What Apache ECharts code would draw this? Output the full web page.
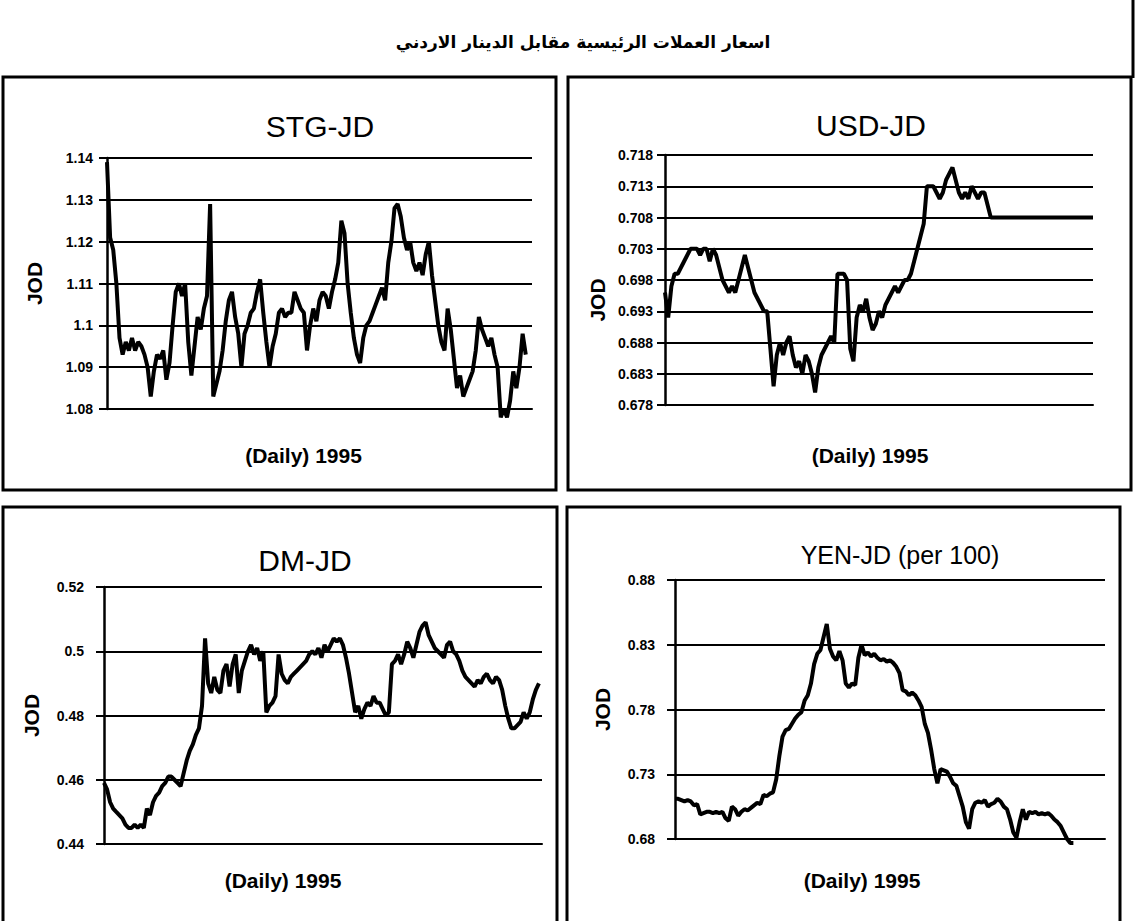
<!DOCTYPE html>
<html>
<head>
    <meta charset="utf-8">
    <title>JD exchange rates 1995</title>
    <script src="https://cdn.jsdelivr.net/npm/echarts@6/dist/echarts.min.js"></script>
    <style>html, body { margin: 0; padding: 0; background: #fff; }</style>
</head>
<body>
    <div id="main" style="width: 1137px;height:921px;"></div>
    <script type="text/javascript">
        // daily rates for 1995
        var stg = [1.139, 1.121, 1.118, 1.110, 1.097, 1.093, 1.096, 1.094, 1.097, 1.094, 1.096, 1.095, 1.093, 1.090, 1.083,
            1.089, 1.093, 1.092, 1.094, 1.087, 1.091, 1.100, 1.108, 1.110, 1.107, 1.110, 1.096, 1.088, 1.095, 1.102,
            1.099, 1.104, 1.107, 1.129, 1.083, 1.086, 1.089, 1.094, 1.101, 1.106, 1.108, 1.102, 1.098, 1.090, 1.098,
            1.100, 1.103, 1.104, 1.108, 1.111, 1.103, 1.096, 1.090, 1.095, 1.098, 1.103, 1.104, 1.102, 1.103, 1.103,
            1.108, 1.106, 1.104, 1.103, 1.094, 1.100, 1.104, 1.101, 1.106, 1.108, 1.107, 1.104, 1.108, 1.111, 1.115,
            1.125, 1.122, 1.110, 1.103, 1.097, 1.093, 1.091, 1.097, 1.100, 1.101, 1.103, 1.105, 1.107, 1.109, 1.106,
            1.115, 1.120, 1.128, 1.129, 1.126, 1.121, 1.118, 1.120, 1.115, 1.113, 1.115, 1.112, 1.117, 1.120, 1.112,
            1.106, 1.100, 1.096, 1.094, 1.104, 1.099, 1.092, 1.085, 1.088, 1.083, 1.085, 1.087, 1.089, 1.094, 1.102,
            1.099, 1.097, 1.095, 1.097, 1.093, 1.090, 1.078, 1.080, 1.078, 1.082, 1.089, 1.085, 1.090, 1.098, 1.093];

        var usd = [0.696, 0.692, 0.697, 0.699, 0.699, 0.700, 0.701, 0.702, 0.703, 0.703, 0.703, 0.702, 0.703, 0.703, 0.701,
            0.703, 0.702, 0.700, 0.698, 0.697, 0.696, 0.697, 0.696, 0.698, 0.700, 0.702, 0.700, 0.698, 0.696, 0.695,
            0.694, 0.693, 0.693, 0.687, 0.681, 0.686, 0.688, 0.686, 0.688, 0.689, 0.686, 0.684, 0.685, 0.683, 0.686,
            0.685, 0.683, 0.680, 0.684, 0.686, 0.687, 0.688, 0.689, 0.688, 0.699, 0.699, 0.699, 0.698, 0.687, 0.685,
            0.692, 0.694, 0.693, 0.695, 0.692, 0.690, 0.691, 0.693, 0.692, 0.694, 0.695, 0.696, 0.697, 0.696, 0.697,
            0.698, 0.698, 0.699, 0.701, 0.703, 0.705, 0.707, 0.713, 0.713, 0.713, 0.712, 0.711, 0.712, 0.714, 0.715,
            0.716, 0.714, 0.712, 0.711, 0.712, 0.711, 0.713, 0.712, 0.711, 0.712, 0.712, 0.710, 0.708,
            0.708, 0.708, 0.708, 0.708, 0.708, 0.708, 0.708, 0.708, 0.708, 0.708, 0.708, 0.708, 0.708, 0.708, 0.708, 0.708,
            0.708, 0.708, 0.708, 0.708, 0.708, 0.708, 0.708, 0.708, 0.708, 0.708, 0.708, 0.708, 0.708, 0.708, 0.708, 0.708];

        var dm = [0.459, 0.457, 0.453, 0.451, 0.450, 0.449, 0.448, 0.446, 0.445, 0.445, 0.446, 0.445, 0.446, 0.445, 0.451,
            0.449, 0.453, 0.455, 0.456, 0.458, 0.459, 0.461, 0.461, 0.460, 0.459, 0.458, 0.462, 0.466, 0.469, 0.471,
            0.474, 0.476, 0.483, 0.504, 0.490, 0.487, 0.492, 0.488, 0.487, 0.494, 0.496, 0.489, 0.496, 0.499, 0.487,
            0.494, 0.497, 0.500, 0.502, 0.499, 0.501, 0.497, 0.500, 0.481, 0.483, 0.484, 0.486, 0.499, 0.493, 0.491,
            0.490, 0.492, 0.493, 0.494, 0.495, 0.496, 0.497, 0.499, 0.500, 0.499, 0.501, 0.498, 0.502, 0.500, 0.502,
            0.504, 0.503, 0.504, 0.502, 0.498, 0.493, 0.487, 0.481, 0.483, 0.479, 0.482, 0.484, 0.483, 0.486, 0.484,
            0.484, 0.482, 0.480, 0.481, 0.496, 0.497, 0.499, 0.496, 0.499, 0.503, 0.501, 0.498, 0.502, 0.506, 0.508,
            0.509, 0.505, 0.503, 0.501, 0.500, 0.499, 0.498, 0.502, 0.503, 0.500, 0.499, 0.497, 0.494, 0.492, 0.491,
            0.490, 0.489, 0.491, 0.490, 0.492, 0.493, 0.491, 0.490, 0.492, 0.491, 0.488, 0.483, 0.479, 0.476, 0.476,
            0.477, 0.478, 0.481, 0.479, 0.481, 0.485, 0.488, 0.490];

        var yen = [0.711, 0.711, 0.710, 0.709, 0.710, 0.709, 0.706, 0.707, 0.699, 0.700, 0.701, 0.701, 0.700, 0.701, 0.700,
            0.701, 0.696, 0.694, 0.705, 0.703, 0.698, 0.701, 0.703, 0.702, 0.704, 0.706, 0.708, 0.707, 0.714, 0.713,
            0.715, 0.716, 0.726, 0.744, 0.759, 0.764, 0.765, 0.769, 0.773, 0.776, 0.778, 0.787, 0.791, 0.800, 0.815,
            0.823, 0.826, 0.836, 0.846, 0.827, 0.821, 0.818, 0.825, 0.818, 0.800, 0.797, 0.800, 0.799, 0.820, 0.830,
            0.822, 0.824, 0.821, 0.823, 0.820, 0.818, 0.819, 0.817, 0.818, 0.816, 0.813, 0.808, 0.795, 0.794, 0.791,
            0.793, 0.791, 0.787, 0.782, 0.769, 0.762, 0.749, 0.734, 0.723, 0.734, 0.733, 0.732, 0.728, 0.723, 0.721,
            0.713, 0.705, 0.693, 0.688, 0.703, 0.708, 0.709, 0.708, 0.710, 0.705, 0.707, 0.708, 0.711, 0.709, 0.705,
            0.703, 0.695, 0.685, 0.681, 0.693, 0.703, 0.695, 0.701, 0.700, 0.701, 0.699, 0.700, 0.699, 0.700, 0.698,
            0.695, 0.693, 0.690, 0.685, 0.680, 0.677, 0.677];

        // y tick values of each panel
        var stgTicks = [1.08, 1.09, 1.10, 1.11, 1.12, 1.13, 1.14];
        var usdTicks = [0.678, 0.683, 0.688, 0.693, 0.698, 0.703, 0.708, 0.713, 0.718];
        var dmTicks = [0.44, 0.46, 0.48, 0.50, 0.52];
        var yenTicks = [0.68, 0.73, 0.78, 0.83, 0.88];

        var mainTitle = 'اسعار العملات الرئيسية مقابل الدينار الاردني';
        var panelTitles = ['STG-JD', 'USD-JD', 'DM-JD', 'YEN-JD (per 100)'];
        var xName = '(Daily) 1995';
        var yName = 'JOD';

        // layout of the four boxes
        var panels = [
            { data: stg, ticks: stgTicks, pad: 2, grid: [107, 158, 425, 251], box: [3, 77, 553, 413],
              title: [320, 126], tsize: 30, xGap: 36, xShift: 32, yGap: 62, yShift: 0, lblGap: 14 },
            { data: usd, ticks: usdTicks, pad: 0, grid: [665, 155, 428, 250], box: [568, 77, 563, 413],
              title: [871, 125], tsize: 30, xGap: 40, xShift: 18, yGap: 57, yShift: 40, lblGap: 12 },
            { data: dm, ticks: dmTicks, pad: 1, grid: [104, 587, 438, 257], box: [3, 507, 554, 430],
              title: [305, 560], tsize: 30, xGap: 26, xShift: 80, yGap: 62, yShift: 0, lblGap: 20 },
            { data: yen, ticks: yenTicks, pad: 10, grid: [675, 580, 430, 259], box: [567, 507, 553, 430],
              title: [900, 555], tsize: 25, xGap: 31, xShift: 56, yGap: 62, yShift: 0, lblGap: 20 }
        ];

        var chart = echarts.init(document.getElementById('main'), null, { renderer: 'svg' });

        function fmt(v) {
            return String(+v.toFixed(3));
        }

        var grids = [], xAxes = [], yAxes = [], series = [];
        var graphics = [{
            type: 'text', x: 583, y: 42,
            style: { text: mainTitle, align: 'center', verticalAlign: 'middle', fill: '#000',
                font: 'bold 17px "DejaVu Sans"' }
        }, {
            type: 'line', shape: { x1: 1133, y1: 0, x2: 1133, y2: 78 },
            style: { stroke: '#000', lineWidth: 3 }
        }];

        panels.forEach(function (p, i) {
            var days = [];
            for (var d = 1; d <= p.data.length + p.pad; d++) days.push(d);

            grids.push({ left: p.grid[0], top: p.grid[1], width: p.grid[2], height: p.grid[3] });

            xAxes.push({
                gridIndex: i,
                type: 'category',
                boundaryGap: false,
                data: days,
                axisLine: { show: true, lineStyle: { color: '#000', width: 2 } },
                axisTick: { show: false },
                axisLabel: { show: false },
                splitLine: { show: false },
                name: xName,
                nameLocation: 'middle',
                nameGap: p.xGap,
                nameTextStyle: { color: '#000', fontSize: 21, fontWeight: 'bold', fontFamily: 'Liberation Sans',
                    padding: [0, p.xShift, 0, 0] }
            });

            yAxes.push({
                gridIndex: i,
                type: 'value',
                min: p.ticks[0],
                max: p.ticks[p.ticks.length - 1],
                axisLine: { show: true, lineStyle: { color: '#000', width: 2.5 } },
                axisTick: { show: true, length: 8, customValues: p.ticks, lineStyle: { color: '#000', width: 2 } },
                axisLabel: {
                    customValues: p.ticks, formatter: fmt, color: '#000', fontSize: 14,
                    fontWeight: 'bold', fontFamily: 'Liberation Sans', margin: p.lblGap
                },
                splitLine: { show: true, lineStyle: { color: '#000', width: 2 } },
                name: yName,
                nameLocation: 'middle',
                nameRotate: 90,
                nameGap: p.yGap,
                nameTextStyle: { color: '#000', fontSize: 21, fontWeight: 'bold', fontFamily: 'Liberation Sans',
                    padding: [0, p.yShift, 0, 0] }
            });

            series.push({
                type: 'line',
                xAxisIndex: i,
                yAxisIndex: i,
                data: p.data,
                symbol: 'none',
                clip: false,
                lineStyle: { color: '#000', width: 4 }
            });

            graphics.push({
                type: 'rect',
                shape: { x: p.box[0], y: p.box[1], width: p.box[2], height: p.box[3] },
                style: { fill: 'none', stroke: '#000', lineWidth: 3 }
            });
            graphics.push({
                type: 'text', x: p.title[0], y: p.title[1],
                style: { text: panelTitles[i], align: 'center', verticalAlign: 'middle', fill: '#000',
                    font: p.tsize + 'px "Liberation Sans"' }
            });
        });

        var option = {
            animation: false,
            backgroundColor: '#fff',
            grid: grids,
            xAxis: xAxes,
            yAxis: yAxes,
            series: series,
            graphic: graphics
        };

        chart.setOption(option);
    </script>
</body>
</html>
